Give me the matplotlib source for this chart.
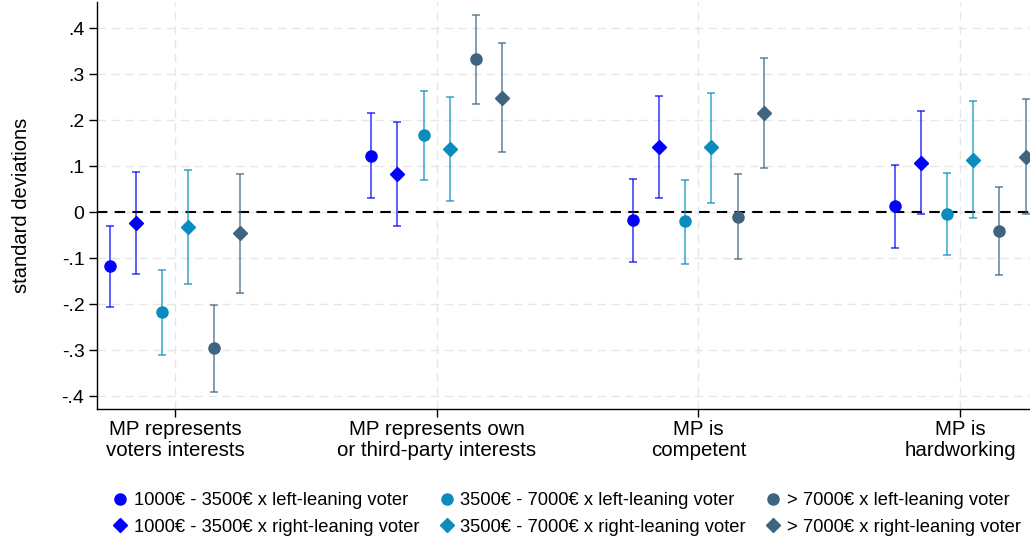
import matplotlib.pyplot as plt
import numpy as np
from matplotlib.lines import Line2D

plt.rcParams["font.family"] = ["Liberation Sans", "DejaVu Sans"]

categories = [
    "MP represents\nvoters interests",
    "MP represents own\nor third-party interests",
    "MP is\ncompetent",
    "MP is\nhardworking",
]
series_labels = [
    "1000€ - 3500€ x left-leaning voter",
    "1000€ - 3500€ x right-leaning voter",
    "3500€ - 7000€ x left-leaning voter",
    "3500€ - 7000€ x right-leaning voter",
    "> 7000€ x left-leaning voter",
    "> 7000€ x right-leaning voter",
]

# point estimates per series, one value per category
est_low_left = [-0.117, 0.123, -0.018, 0.013]
est_low_right = [-0.024, 0.083, 0.142, 0.107]
est_mid_left = [-0.218, 0.167, -0.020, -0.005]
est_mid_right = [-0.033, 0.138, 0.141, 0.113]
est_high_left = [-0.296, 0.332, -0.010, -0.041]
est_high_right = [-0.046, 0.248, 0.216, 0.120]

# confidence interval bounds
lo_low_left = [-0.207, 0.030, -0.109, -0.077]
hi_low_left = [-0.029, 0.216, 0.072, 0.103]
lo_low_right = [-0.135, -0.030, 0.031, -0.003]
hi_low_right = [0.088, 0.197, 0.253, 0.220]
lo_mid_left = [-0.311, 0.069, -0.112, -0.094]
hi_mid_left = [-0.125, 0.264, 0.070, 0.085]
lo_mid_right = [-0.157, 0.024, 0.020, -0.013]
hi_mid_right = [0.092, 0.251, 0.260, 0.241]
lo_high_left = [-0.391, 0.236, -0.102, -0.137]
hi_high_left = [-0.201, 0.428, 0.082, 0.055]
lo_high_right = [-0.175, 0.130, 0.095, -0.004]
hi_high_right = [0.082, 0.367, 0.336, 0.246]

estimates = [est_low_left, est_low_right, est_mid_left, est_mid_right, est_high_left, est_high_right]
lows = [lo_low_left, lo_low_right, lo_mid_left, lo_mid_right, lo_high_left, lo_high_right]
highs = [hi_low_left, hi_low_right, hi_mid_left, hi_mid_right, hi_high_left, hi_high_right]

colors = ["#0000ff", "#0000ff", "#0a8cbe", "#0a8cbe", "#3e6480", "#3e6480"]
markers = ["o", "D", "o", "D", "o", "D"]
offsets = [-0.25, -0.15, -0.05, 0.05, 0.15, 0.25]

fig = plt.figure(figsize=(10.30, 5.43), dpi=100)
ax = fig.add_axes([97 / 1030, 134 / 543, 933 / 1030, 407 / 543])

x = np.arange(1, len(categories) + 1)

for i in range(len(estimates)):
    est = np.array(estimates[i])
    lo = np.array(lows[i])
    hi = np.array(highs[i])
    xs = x + offsets[i]
    ax.errorbar(xs, est, yerr=[est - lo, hi - est], fmt="none",
                ecolor=colors[i], elinewidth=1.1, capsize=3, capthick=1.1,
                alpha=0.8, zorder=3)
    ax.plot(xs, est, linestyle="none", marker=markers[i], color=colors[i],
            markersize=8 if markers[i] == "o" else 6.8, zorder=4)

ax.axhline(0, color="black", linestyle=(0, (5, 3.5)), linewidth=1.5, zorder=2)

ax.set_xlim(0.702, 4.267)
ax.set_ylim(-0.428, 0.457)

yticks = [0.4, 0.3, 0.2, 0.1, 0, -0.1, -0.2, -0.3, -0.4]
ytick_labels = [".4", ".3", ".2", ".1", "0", "-.1", "-.2", "-.3", "-.4"]
ax.set_yticks(yticks)
ax.set_yticklabels(ytick_labels)
ax.set_xticks(x)
ax.set_xticklabels(categories, linespacing=1.12)

ax.grid(True, color="#e6e6e6", linestyle=(0, (6, 4)), linewidth=1.0, zorder=0)
ax.set_axisbelow(True)

for side in ["top", "right"]:
    ax.spines[side].set_visible(False)
ax.spines["left"].set_linewidth(1.0)
ax.spines["bottom"].set_linewidth(1.0)
ax.tick_params(axis="y", labelsize=14, length=6, width=1.0, pad=3)
ax.tick_params(axis="x", labelsize=14.8, length=6, width=1.0, pad=2)

ax.set_ylabel("standard deviations", fontsize=14.5, labelpad=22)

handles = [Line2D([], [], linestyle="none", marker=m, color=c,
                  markersize=8 if m == "o" else 6.8)
           for m, c in zip(markers, colors)]
fig.legend(handles, series_labels, loc="center", ncol=3,
           bbox_to_anchor=(565 / 1030, 1 - 514 / 543), frameon=False,
           fontsize=13.2, handletextpad=0.15, columnspacing=0.9,
           handlelength=1.2, labelspacing=0.5)

fig.savefig("out.png", dpi=100)
